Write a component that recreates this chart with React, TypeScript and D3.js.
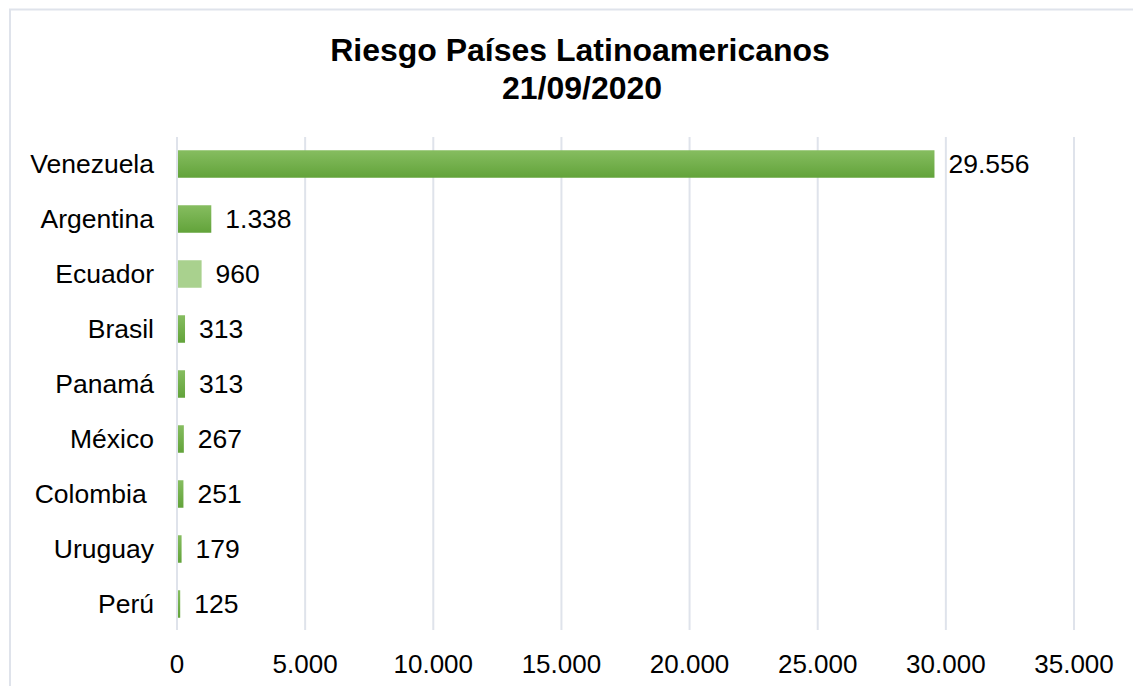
import React from "react";
import * as d3 from "d3";

const categories = ["Venezuela", "Argentina", "Ecuador", "Brasil", "Panamá", "México", "Colombia ", "Uruguay", "Perú"];
const values = [29556, 1338, 960, 313, 313, 267, 251, 179, 125];
const highlighted = ["Ecuador"];
const xTicks = [0, 5000, 10000, 15000, 20000, 25000, 30000, 35000];
const titleLines = ["Riesgo Países Latinoamericanos", "21/09/2020"];

const W = 1133;
const H = 686;
const FONT = "'Liberation Sans', Arial, sans-serif";

const fmt = (v: number) => d3.format(",")(v).replace(/,/g, ".");

export default function App() {
  const x = d3.scaleLinear().domain([0, 35000]).range([177, 1074]);
  const y = d3.scaleBand<string>().domain(categories).range([136.5, 631.5]).paddingInner(0.5).paddingOuter(0.25);
  const gridTop = 137;
  const gridBottom = 630;

  return (
    <svg width={W} height={H} style={{ position: "absolute", left: 0, top: 0, background: "#fff" }}>
      <defs>
        <linearGradient id="barGrad" x1="0" y1="0" x2="0" y2="1">
          <stop offset="0%" stopColor="#86bd60" />
          <stop offset="100%" stopColor="#62a33a" />
        </linearGradient>
      </defs>
      <rect x={10} y={9.5} width={W + 20} height={H + 20} fill="#fff" stroke="#dfe3eb" strokeWidth={2} />
      <text x={580} y={61} textAnchor="middle" fontFamily={FONT} fontWeight="bold" fontSize={32} fill="#000">
        {titleLines[0]}
      </text>
      <text x={582} y={99} textAnchor="middle" fontFamily={FONT} fontWeight="bold" fontSize={32} fill="#000">
        {titleLines[1]}
      </text>
      {xTicks.map((t) => (
        <line key={"g" + t} x1={x(t)} x2={x(t)} y1={gridTop} y2={gridBottom} stroke="#dfe3eb" strokeWidth={2} />
      ))}
      {categories.map((c, i) => {
        const y0 = y(c)!;
        const bw = y.bandwidth();
        const isHi = highlighted.includes(c);
        return (
          <g key={c}>
            <rect
              x={x(0) + 1}
              y={y0}
              width={Math.max(0, x(values[i]) - x(0) - 1)}
              height={bw}
              fill={isHi ? "#a9d18e" : "url(#barGrad)"}
            />
            <text
              x={154}
              y={y0 + bw / 2 + 9}
              textAnchor="end"
              fontFamily={FONT}
              fontSize={26.5}
              fill="#000"
              style={{ whiteSpace: "pre" }}
            >
              {c}
            </text>
            <text x={x(values[i]) + 14} y={y0 + bw / 2 + 9} fontFamily={FONT} fontSize={26.5} fill="#000">
              {fmt(values[i])}
            </text>
          </g>
        );
      })}
      {xTicks.map((t) => (
        <text key={"t" + t} x={x(t)} y={673} textAnchor="middle" fontFamily={FONT} fontSize={26} fill="#000">
          {fmt(t)}
        </text>
      ))}
    </svg>
  );
}
